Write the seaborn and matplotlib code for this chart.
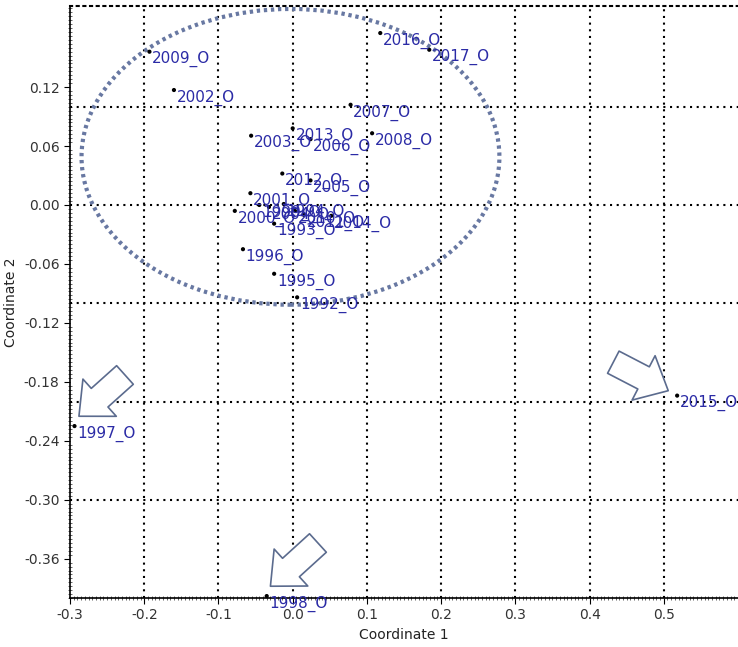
import numpy as np
import pandas as pd
import seaborn as sns
import matplotlib.pyplot as plt
from matplotlib.patches import Ellipse

years = [1992, 1993, 1994, 1995, 1996, 1997, 1998, 1999, 2000, 2001, 2002, 2003, 2004,
         2005, 2006, 2007, 2008, 2009, 2010, 2011, 2012, 2013, 2014, 2015, 2016, 2017]
coord1 = [0.006, -0.025, -0.012, -0.025, -0.067, -0.294, -0.035, -0.045, -0.078, -0.057,
          -0.160, -0.056, -0.032, 0.024, 0.024, 0.078, 0.107, -0.193, 0.003, 0.015,
          -0.014, 0.000, 0.052, 0.518, 0.118, 0.184]
coord2 = [-0.094, -0.019, 0.001, -0.070, -0.045, -0.225, -0.398, 0.000, -0.006, 0.012,
          0.117, 0.0705, -0.002, 0.025, 0.067, 0.102, 0.073, 0.156, -0.006, -0.010,
          0.032, 0.078, -0.011, -0.194, 0.175, 0.158]
labels = [f"{y}_O" for y in years]

# ellipse around the main group (centre, width, height)
ell_center = (-0.003, 0.049)
ell_w, ell_h = 0.563, 0.301

# hollow arrows pointing at the outliers: (tail, tip)
arrows = [((-0.226, -0.173), (-0.288, -0.215)),
          ((0.034, -0.344), (-0.030, -0.388)),
          ((0.432, -0.160), (0.506, -0.189))]

df = pd.DataFrame({'Coordinate 1': coord1, 'Coordinate 2': coord2, 'label': labels})

sns.set_style('white')
plt.rcParams['font.family'] = ['DejaVu Sans']
plt.rcParams['axes.unicode_minus'] = False

fig = plt.figure(figsize=(7.38, 6.47), dpi=100)
ax = fig.add_axes([0.0949, 0.0757, 0.9051, 0.915])

# dotted grid every 0.1
for gx in np.arange(-0.2, 0.55, 0.1):
    ax.axvline(gx, color='black', lw=1.5, ls=(0, (1, 2.2)), zorder=1)
for gy in np.arange(-0.3, 0.15, 0.1):
    ax.axhline(gy, color='black', lw=1.5, ls=(0, (1, 2.2)), zorder=1)

ell = Ellipse(ell_center, ell_w, ell_h, fill=False, ec='#6878a2', lw=3,
              ls=(0, (0.8, 0.9)), zorder=2)
ax.add_patch(ell)

sns.scatterplot(data=df, x='Coordinate 1', y='Coordinate 2', color='black', s=9,
                edgecolor='none', ax=ax, zorder=4, clip_on=False)

for x, y, t in zip(coord1, coord2, labels):
    ax.annotate(t, (x, y), xytext=(2, -5.5), textcoords='offset points',
                ha='left', va='center', fontsize=11, color='#2b2ba6', zorder=5)

for tail, tip in arrows:
    ax.annotate('', xy=tip, xytext=tail,
                arrowprops=dict(arrowstyle='simple,head_length=1.0,head_width=1.8,tail_width=0.9',
                                fc='white', ec='#5b6b8e', lw=1.2, mutation_scale=20,
                                shrinkA=0, shrinkB=0), zorder=6)

ax.set_xlim(-0.3, 0.6)
ax.set_ylim(-0.40, 0.2025)
ax.set_xticks(np.arange(-0.3, 0.55, 0.1))
ax.set_xticklabels([f"{v:.1f}" for v in np.arange(-0.3, 0.55, 0.1)])
yt = [0.12, 0.06, 0.0, -0.06, -0.12, -0.18, -0.24, -0.30, -0.36]
ax.set_yticks(yt)
ax.set_yticklabels([f"{v:.2f}" for v in yt])
ax.set_xticks(np.arange(-0.3, 0.6, 0.005), minor=True)
ax.set_yticks(np.arange(-0.40, 0.2, 0.004), minor=True)
ax.tick_params(which='major', direction='out', length=4, width=0.8, colors='black',
               labelcolor='#333333', labelsize=10, left=True, bottom=True)
ax.tick_params(which='minor', direction='inout', length=2.5, width=0.5, left=True, bottom=True)

for s in ['left', 'bottom']:
    ax.spines[s].set_color('black')
    ax.spines[s].set_linewidth(1.2)
ax.spines['right'].set_visible(False)
ax.spines['top'].set_linestyle((0, (1, 2.2)))
ax.spines['top'].set_linewidth(1.5)
ax.spines['top'].set_color('black')

ax.set_xlabel('Coordinate 1', fontsize=10, color='#222222', labelpad=4)
ax.set_ylabel('Coordinate 2', fontsize=10, color='#222222', labelpad=4)

fig.savefig('out.png', dpi=100)
